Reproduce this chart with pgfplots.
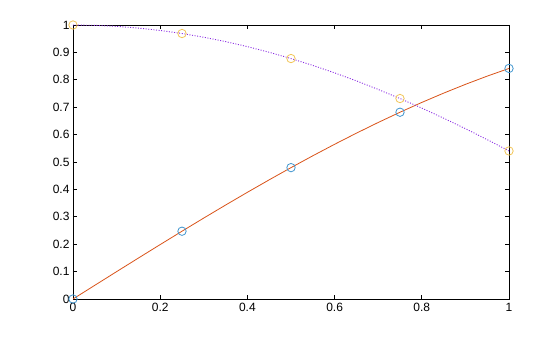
\documentclass[border=0pt]{standalone}
\usepackage{pgfplots}
\pgfplotsset{compat=1.18}
\usepackage{fontspec}
\setmainfont{Liberation Sans}
\definecolor{sinline}{RGB}{217,83,25}
\definecolor{cosline}{RGB}{138,43,226}
\definecolor{sinmark}{RGB}{0,114,189}
\definecolor{cosmark}{RGB}{237,177,32}
\begin{document}
\begin{tikzpicture}
\begin{axis}[name=ax, scale only axis, width=436pt, height=274pt,
  xmin=0, xmax=1, ymin=0, ymax=1,
  xtick={0,0.2,0.4,0.6,0.8,1},
  ytick={0,0.1,0.2,0.3,0.4,0.5,0.6,0.7,0.8,0.9,1},
  /pgf/number format/assume math mode=true,
  /pgf/number format/fixed,
  tick label style={font=\fontsize{12}{14}\selectfont, black},
  axis line style={black, line width=0.8pt},
  major tick style={black, line width=0.8pt},
  major tick length=4pt,
  tick align=inside,
  clip=false,
  xticklabel style={yshift=-1pt},
  yticklabel style={xshift=0pt},
]
\addplot[sinline, line width=0.8pt] coordinates {
(0,0) (0.05,0.04998) (0.1,0.09983) (0.15,0.14944) (0.2,0.19867) (0.25,0.24740)
(0.3,0.29552) (0.35,0.34290) (0.4,0.38942) (0.45,0.43497) (0.5,0.47943)
(0.55,0.52269) (0.6,0.56464) (0.65,0.60519) (0.7,0.64422) (0.75,0.68164)
(0.8,0.71736) (0.85,0.75128) (0.9,0.78333) (0.95,0.81342) (1,0.84147)};
\addplot[cosline, line width=0.9pt, dash pattern=on 1pt off 1.6pt] coordinates {
(0,1) (0.05,0.99875) (0.1,0.99500) (0.15,0.98877) (0.2,0.98007) (0.25,0.96891)
(0.3,0.95534) (0.35,0.93937) (0.4,0.92106) (0.45,0.90045) (0.5,0.87758)
(0.55,0.85252) (0.6,0.82534) (0.65,0.79608) (0.7,0.76484) (0.75,0.73169)
(0.8,0.69671) (0.85,0.65998) (0.9,0.62161) (0.95,0.58168) (1,0.54030)};
\addplot[only marks, mark=o, mark size=4.2pt, sinmark!75!white, mark options={line width=0.8pt}] coordinates {
(0,0) (0.25,0.24740) (0.5,0.47943) (0.75,0.68164) (1,0.84147)};
\addplot[only marks, mark=o, mark size=4.2pt, cosmark!75!white, mark options={line width=0.8pt}] coordinates {
(0,1) (0.25,0.96891) (0.5,0.87758) (0.75,0.73169) (1,0.54030)};
\end{axis}
\path ([xshift=-73pt,yshift=-38pt]ax.south west) rectangle ([xshift=51pt,yshift=25pt]ax.north east);
\end{tikzpicture}
\end{document}
